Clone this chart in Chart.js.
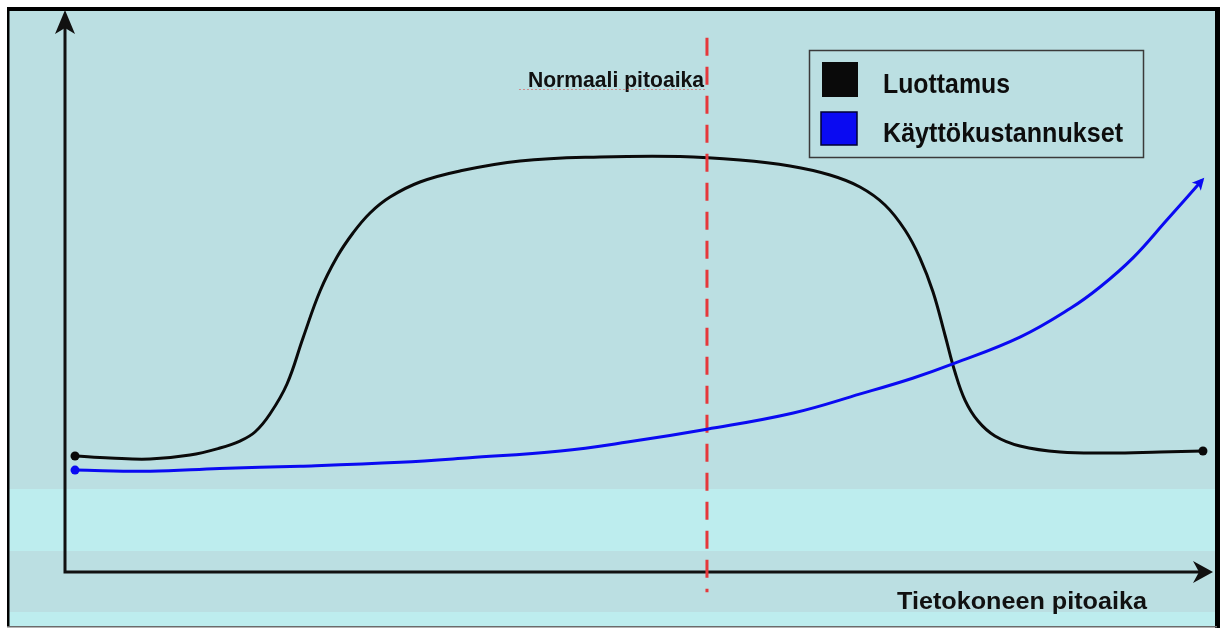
<!DOCTYPE html>
<html><head><meta charset="utf-8">
<script src="https://cdn.jsdelivr.net/npm/chart.js@4/dist/chart.umd.min.js"></script>
<style>html,body{margin:0;padding:0;background:#fff;overflow:hidden}</style>
</head><body>
<canvas id="c" width="1223" height="628" style="display:block;width:1223px;height:628px"></canvas>
<script>
// ---- data (x = time 0..100 along the axis, y = level 0..100) ----
const seriesNames = ['Luottamus', 'Käyttökustannukset'];
const luottamusX = [0.97, 4.05, 7.57, 11.09, 13.73, 15.49, 16.81, 18.13, 19.63, 21.04, 22.54, 24.03, 25.44, 26.94, 28.70, 31.34, 34.86, 40.14, 47.18, 54.23, 59.51, 63.91, 67.43, 70.07, 72.27, 74.03, 75.35, 76.50, 77.55, 78.43, 79.31, 80.46, 81.95, 84.15, 87.68, 92.08, 96.48, 100.26];
const luottamusY = [20.71, 20.36, 20.18, 20.89, 22.14, 23.39, 25.0, 28.21, 33.57, 41.79, 50.18, 56.25, 60.54, 64.11, 66.96, 69.64, 71.61, 73.39, 74.11, 74.2, 73.57, 72.5, 70.89, 68.75, 65.54, 61.07, 56.07, 50.0, 42.32, 35.71, 30.71, 26.96, 24.29, 22.5, 21.43, 21.25, 21.43, 21.61];
const kustannusX = [0.97, 7.6, 13.7, 20.8, 29.6, 35.7, 43.7, 49.6, 56.6, 64.2, 70.1, 74.7, 78.3, 84.2, 88.6, 91.2, 94.1, 97.1, 100.2];
const kustannusY = [18.2, 18.0, 18.5, 18.9, 19.6, 20.4, 21.6, 23.2, 25.5, 28.4, 31.8, 34.6, 37.2, 42.0, 47.1, 50.9, 56.1, 62.9, 70.0];
const normalLifeX = [56.6, 56.6];
const normalLifeY = [95.4, -3.6];
const normalLifeLabel = 'Normaali pitoaika';
const xAxisTitle = 'Tietokoneen pitoaika';

const BLACK = '#0a0a0a', BLUE = '#0a0af2', RED = '#e5383b';
const BG = '#BBDFE2', LIGHT = '#BDEDEE';

const zip = (xs, ys) => xs.map((x, i) => ({x, y: ys[i]}));
const pts = (n, ends) => Array.from({length: n}, (_, i) => ends.includes(i) ? 4.5 : 0);

function fitText(ctx, text, x, y, font, width, align) {
  ctx.save();
  ctx.font = font;
  const w = ctx.measureText(text).width;
  const s = width / w;
  ctx.textBaseline = 'alphabetic';
  ctx.textAlign = 'left';
  const left = align === 'right' ? x - width : x;
  ctx.translate(left, y);
  ctx.scale(s, 1);
  ctx.fillText(text, 0, 0);
  ctx.restore();
}

const decor = {
  id: 'decor',
  beforeDraw(chart) {
    const ctx = chart.ctx, a = chart.chartArea;
    ctx.save();
    ctx.fillStyle = '#fff'; ctx.fillRect(0, 0, 1223, 628);
    ctx.fillStyle = BG; ctx.fillRect(9, 11, 1206, 616);
    ctx.fillStyle = LIGHT; ctx.fillRect(9, 489, 1206, 62); ctx.fillRect(9, 612, 1206, 14);
    ctx.fillStyle = '#000';
    ctx.fillRect(7, 7, 1213, 4);
    ctx.fillRect(7, 7, 2.5, 620);
    ctx.fillRect(1215, 7, 5, 621);
    ctx.fillStyle = '#6b6b6b'; ctx.fillRect(7, 626, 1210, 1.5);

    // axes
    const xs = chart.scales.x, ys = chart.scales.y;
    const ox = xs.getPixelForValue(0) + 1, oy = ys.getPixelForValue(0);
    const tipX = a.right + 13, tipY = a.top - 2;
    ctx.strokeStyle = '#111'; ctx.lineWidth = 3; ctx.lineCap = 'butt';
    ctx.beginPath(); ctx.moveTo(ox, oy + 1.5); ctx.lineTo(ox, tipY + 12);
    ctx.moveTo(ox - 1.5, oy); ctx.lineTo(tipX - 10, oy); ctx.stroke();
    ctx.fillStyle = '#111';
    ctx.beginPath(); ctx.moveTo(ox, tipY); ctx.lineTo(ox - 10, tipY + 24); ctx.lineTo(ox, tipY + 18); ctx.lineTo(ox + 10, tipY + 24); ctx.closePath(); ctx.fill();
    ctx.beginPath(); ctx.moveTo(tipX, oy); ctx.lineTo(tipX - 20, oy - 11); ctx.lineTo(tipX - 14, oy); ctx.lineTo(tipX - 20, oy + 11); ctx.closePath(); ctx.fill();

    // axis title
    ctx.fillStyle = '#111';
    fitText(ctx, xAxisTitle, 897, 609, 'bold 23px "Liberation Sans", Arial, sans-serif', 250, 'left');
    ctx.restore();
  },
  afterDatasetsDraw(chart) {
    const ctx = chart.ctx;
    ctx.save();
    // arrow head at end of cost curve
    const meta = chart.getDatasetMeta(1);
    const last = meta.data[meta.data.length - 1];
    const px = last.cp1x !== undefined ? last.cp1x : meta.data[meta.data.length - 2].x;
    const py = last.cp1y !== undefined ? last.cp1y : meta.data[meta.data.length - 2].y;
    const ang = Math.atan2(last.y - py, last.x - px);
    ctx.translate(last.x, last.y); ctx.rotate(ang);
    ctx.fillStyle = BLUE;
    ctx.beginPath(); ctx.moveTo(3, 0); ctx.lineTo(-9, -6); ctx.lineTo(-6, 0); ctx.lineTo(-9, 6); ctx.closePath(); ctx.fill();
    ctx.restore();

    // normal-life label
    ctx.save();
    const lx = chart.scales.x.getPixelForValue(normalLifeX[0]);
    ctx.fillStyle = '#111';
    fitText(ctx, normalLifeLabel, lx - 3, 87, 'bold 22px "Liberation Sans", Arial, sans-serif', 176, 'right');
    ctx.strokeStyle = 'rgba(225,70,70,0.55)'; ctx.lineWidth = 1; ctx.setLineDash([2, 2]);
    ctx.beginPath(); ctx.moveTo(lx - 188, 89.5); ctx.lineTo(lx - 2, 89.5); ctx.stroke();
    ctx.restore();

    // legend
    ctx.save();
    ctx.strokeStyle = '#3a3a3a'; ctx.lineWidth = 1.5;
    ctx.strokeRect(809.5, 50.5, 334, 107);
    const ds = chart.data.datasets;
    ctx.fillStyle = ds[0].borderColor; ctx.fillRect(822, 62, 36, 35);
    ctx.fillStyle = ds[1].borderColor; ctx.fillRect(821, 112, 36, 33);
    ctx.strokeStyle = '#000033'; ctx.lineWidth = 1.5; ctx.strokeRect(821, 112, 36, 33);
    ctx.fillStyle = '#0d0d0d';
    fitText(ctx, ds[0].label, 883, 93, 'bold 27px "Liberation Sans", Arial, sans-serif', 127, 'left');
    fitText(ctx, ds[1].label, 883, 142, 'bold 27px "Liberation Sans", Arial, sans-serif', 240, 'left');
    ctx.restore();
  }
};

new Chart(document.getElementById('c'), {
  type: 'line',
  data: {
    datasets: [
      {label: seriesNames[0], data: zip(luottamusX, luottamusY), borderColor: BLACK, backgroundColor: BLACK,
       borderWidth: 3, tension: 0.4, pointRadius: pts(luottamusX.length, [0, luottamusX.length - 1]),
       pointBackgroundColor: BLACK, pointBorderWidth: 0, clip: false, order: 2},
      {label: seriesNames[1], data: zip(kustannusX, kustannusY), borderColor: BLUE, backgroundColor: BLUE,
       borderWidth: 3, tension: 0.4, pointRadius: pts(kustannusX.length, [0]),
       pointBackgroundColor: BLUE, pointBorderWidth: 0, clip: false, order: 0},
      {label: normalLifeLabel, data: zip(normalLifeX, normalLifeY), borderColor: RED, borderWidth: 3,
       borderDash: [18, 11], pointRadius: 0, clip: false, order: 1}
    ]
  },
  options: {
    responsive: false, animation: false, devicePixelRatio: 1,
    layout: {padding: {left: 64, right: 23, top: 12, bottom: 56}},
    plugins: {legend: {display: false}, tooltip: {enabled: false}},
    scales: {
      x: {type: 'linear', min: 0, max: 100, display: false},
      y: {min: 0, max: 100, display: false}
    }
  },
  plugins: [decor]
});
</script>
</body></html>
